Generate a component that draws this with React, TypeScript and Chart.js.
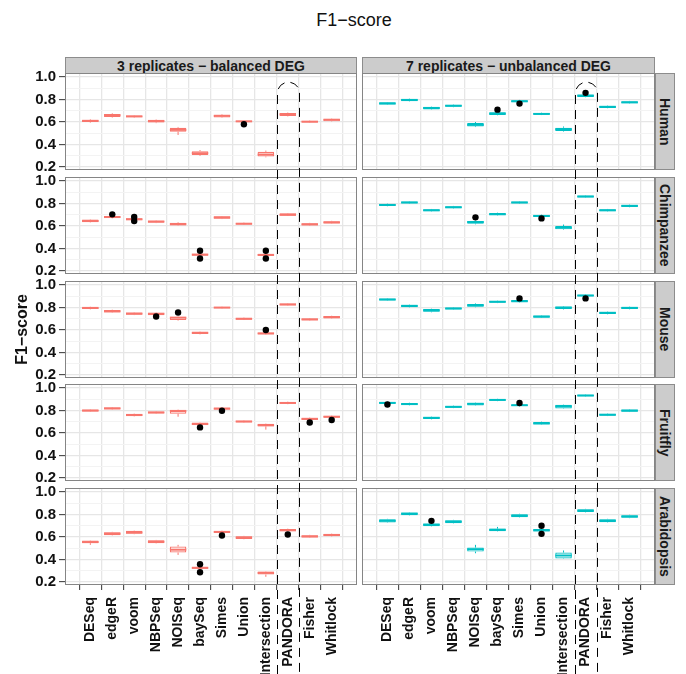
import React, { useEffect, useRef } from 'react';
import { Chart, registerables } from 'chart.js';

Chart.register(...registerables);

const FONT = '"Liberation Sans", Arial, Helvetica, sans-serif';
Chart.defaults.font.family = FONT;

// ---------- data ----------
const categories = ['DESeq', 'edgeR', 'voom', 'NBPSeq', 'NOISeq', 'baySeq', 'Simes', 'Union', 'Intersection', 'PANDORA', 'Fisher', 'Whitlock'];
const columnTitles = ['3 replicates \u2212 balanced DEG', '7 replicates \u2212 unbalanced DEG'];
const speciesNames = ['Human', 'Chimpanzee', 'Mouse', 'Fruitfly', 'Arabidopsis'];
const yTickValues = [0.2, 0.3, 0.4, 0.5, 0.6, 0.7, 0.8, 0.9, 1.0];
const chartTitle = 'F1\u2212score';
const yAxisTitle = 'F1\u2212score';

// box stats: [lower whisker, Q1, median, Q3, upper whisker]
const humanBalanced = [
  [0.595, 0.600, 0.610, 0.620, 0.625], [0.640, 0.645, 0.660, 0.672, 0.678], [0.638, 0.642, 0.650, 0.657, 0.660],
  [0.590, 0.596, 0.608, 0.620, 0.624], [0.484, 0.513, 0.530, 0.549, 0.556], [0.298, 0.305, 0.322, 0.340, 0.350],
  [0.636, 0.640, 0.655, 0.665, 0.670], [0.598, 0.600, 0.606, 0.612, 0.614], [0.285, 0.292, 0.310, 0.334, 0.345],
  [0.650, 0.654, 0.668, 0.680, 0.684], [0.592, 0.595, 0.603, 0.610, 0.613], [0.603, 0.606, 0.620, 0.630, 0.633],
];
const humanUnbalanced = [
  [0.752, 0.755, 0.765, 0.776, 0.778], [0.782, 0.785, 0.797, 0.806, 0.809], [0.708, 0.711, 0.725, 0.735, 0.738],
  [0.732, 0.735, 0.745, 0.753, 0.756], [0.555, 0.561, 0.575, 0.591, 0.600], [0.660, 0.663, 0.675, 0.686, 0.690],
  [0.773, 0.776, 0.785, 0.794, 0.797], [0.662, 0.665, 0.672, 0.680, 0.683], [0.515, 0.520, 0.535, 0.549, 0.560],
  [0.821, 0.824, 0.835, 0.845, 0.848], [0.723, 0.726, 0.735, 0.746, 0.749], [0.764, 0.767, 0.775, 0.785, 0.788],
];
const chimpBalanced = [
  [0.630, 0.633, 0.645, 0.657, 0.660], [0.668, 0.671, 0.680, 0.689, 0.692], [0.648, 0.652, 0.660, 0.670, 0.674],
  [0.626, 0.629, 0.640, 0.647, 0.650], [0.602, 0.605, 0.617, 0.629, 0.635], [0.331, 0.334, 0.345, 0.352, 0.355],
  [0.662, 0.665, 0.676, 0.686, 0.689], [0.610, 0.613, 0.620, 0.629, 0.632], [0.331, 0.334, 0.342, 0.352, 0.355],
  [0.689, 0.692, 0.700, 0.713, 0.716], [0.602, 0.605, 0.615, 0.625, 0.628], [0.619, 0.622, 0.632, 0.643, 0.646],
];
const chimpUnbalanced = [
  [0.776, 0.779, 0.788, 0.797, 0.800], [0.797, 0.800, 0.810, 0.818, 0.821], [0.728, 0.731, 0.740, 0.749, 0.752],
  [0.755, 0.758, 0.767, 0.776, 0.779], [0.615, 0.621, 0.635, 0.644, 0.648], [0.692, 0.695, 0.705, 0.716, 0.719],
  [0.797, 0.800, 0.810, 0.818, 0.821], [0.677, 0.680, 0.690, 0.698, 0.701], [0.565, 0.570, 0.585, 0.600, 0.613],
  [0.851, 0.854, 0.863, 0.872, 0.875], [0.728, 0.731, 0.740, 0.749, 0.752], [0.767, 0.770, 0.780, 0.788, 0.791],
];
const mouseBalanced = [
  [0.784, 0.787, 0.797, 0.804, 0.807], [0.753, 0.756, 0.767, 0.778, 0.781], [0.733, 0.736, 0.746, 0.756, 0.759],
  [0.729, 0.732, 0.745, 0.753, 0.756], [0.684, 0.689, 0.710, 0.718, 0.722], [0.561, 0.564, 0.575, 0.585, 0.588],
  [0.792, 0.795, 0.800, 0.805, 0.807], [0.689, 0.692, 0.700, 0.709, 0.712], [0.557, 0.560, 0.570, 0.576, 0.579],
  [0.816, 0.819, 0.828, 0.836, 0.839], [0.682, 0.685, 0.695, 0.702, 0.705], [0.699, 0.702, 0.715, 0.724, 0.727],
];
const mouseUnbalanced = [
  [0.860, 0.863, 0.872, 0.881, 0.884], [0.801, 0.804, 0.815, 0.825, 0.828], [0.758, 0.763, 0.775, 0.787, 0.790],
  [0.780, 0.783, 0.792, 0.801, 0.804], [0.803, 0.807, 0.820, 0.831, 0.837], [0.840, 0.843, 0.852, 0.858, 0.861],
  [0.844, 0.847, 0.857, 0.867, 0.870], [0.707, 0.710, 0.720, 0.730, 0.733], [0.783, 0.787, 0.800, 0.810, 0.814],
  [0.896, 0.899, 0.908, 0.914, 0.917], [0.740, 0.743, 0.753, 0.763, 0.766], [0.784, 0.787, 0.797, 0.807, 0.810],
];
const flyBalanced = [
  [0.789, 0.792, 0.800, 0.810, 0.813], [0.807, 0.810, 0.820, 0.828, 0.831], [0.748, 0.751, 0.760, 0.772, 0.775],
  [0.771, 0.774, 0.783, 0.792, 0.795], [0.745, 0.772, 0.795, 0.807, 0.810], [0.668, 0.671, 0.680, 0.694, 0.697],
  [0.807, 0.810, 0.817, 0.828, 0.831], [0.691, 0.694, 0.703, 0.709, 0.712], [0.630, 0.659, 0.670, 0.683, 0.686],
  [0.857, 0.860, 0.868, 0.876, 0.879], [0.713, 0.716, 0.726, 0.736, 0.739], [0.733, 0.736, 0.745, 0.754, 0.757],
];
const flyUnbalanced = [
  [0.857, 0.860, 0.868, 0.878, 0.881], [0.846, 0.849, 0.858, 0.867, 0.870], [0.721, 0.724, 0.735, 0.745, 0.748],
  [0.822, 0.825, 0.833, 0.843, 0.846], [0.843, 0.846, 0.860, 0.870, 0.873], [0.884, 0.887, 0.895, 0.902, 0.905],
  [0.837, 0.840, 0.848, 0.854, 0.857], [0.673, 0.676, 0.686, 0.698, 0.701], [0.816, 0.819, 0.838, 0.852, 0.855],
  [0.922, 0.925, 0.935, 0.940, 0.943], [0.751, 0.754, 0.763, 0.772, 0.775], [0.787, 0.790, 0.800, 0.810, 0.813],
];
const arabBalanced = [
  [0.530, 0.545, 0.555, 0.568, 0.571], [0.613, 0.616, 0.630, 0.643, 0.646], [0.625, 0.628, 0.640, 0.655, 0.658],
  [0.542, 0.545, 0.558, 0.571, 0.574], [0.440, 0.462, 0.487, 0.515, 0.530], [0.315, 0.318, 0.325, 0.334, 0.337],
  [0.634, 0.637, 0.645, 0.655, 0.658], [0.580, 0.583, 0.595, 0.607, 0.610], [0.245, 0.265, 0.280, 0.292, 0.295],
  [0.649, 0.652, 0.660, 0.672, 0.675], [0.592, 0.595, 0.605, 0.616, 0.619], [0.604, 0.607, 0.618, 0.628, 0.631],
];
const arabUnbalanced = [
  [0.726, 0.729, 0.745, 0.759, 0.762], [0.792, 0.795, 0.808, 0.818, 0.821], [0.694, 0.697, 0.710, 0.720, 0.723],
  [0.720, 0.723, 0.737, 0.750, 0.753], [0.455, 0.470, 0.490, 0.506, 0.530], [0.649, 0.652, 0.664, 0.675, 0.690],
  [0.774, 0.777, 0.790, 0.804, 0.807], [0.646, 0.649, 0.660, 0.672, 0.675], [0.405, 0.408, 0.435, 0.461, 0.480],
  [0.819, 0.822, 0.835, 0.848, 0.851], [0.729, 0.732, 0.745, 0.759, 0.762], [0.768, 0.771, 0.783, 0.795, 0.798],
];

// outliers: [category index, value]
const humanBalancedOut = [[7, 0.58]];
const humanUnbalancedOut = [[5, 0.71], [6, 0.764], [9, 0.86]];
const chimpBalancedOut = [[1, 0.704], [2, 0.68], [2, 0.645], [5, 0.38], [5, 0.31], [8, 0.38], [8, 0.31]];
const chimpUnbalancedOut = [[4, 0.677], [7, 0.668]];
const mouseBalancedOut = [[3, 0.72], [4, 0.756], [8, 0.6]];
const mouseUnbalancedOut = [[6, 0.882], [9, 0.882]];
const flyBalancedOut = [[5, 0.65], [6, 0.798], [10, 0.694], [11, 0.716]];
const flyUnbalancedOut = [[0, 0.854], [6, 0.867]];
const arabBalancedOut = [[5, 0.357], [5, 0.286], [6, 0.613], [9, 0.622]];
const arabUnbalancedOut = [[2, 0.744], [7, 0.7], [7, 0.628]];

const panelBoxes = [
  [humanBalanced, humanUnbalanced], [chimpBalanced, chimpUnbalanced], [mouseBalanced, mouseUnbalanced],
  [flyBalanced, flyUnbalanced], [arabBalanced, arabUnbalanced],
];
const panelOutliers = [
  [humanBalancedOut, humanUnbalancedOut], [chimpBalancedOut, chimpUnbalancedOut], [mouseBalancedOut, mouseUnbalancedOut],
  [flyBalancedOut, flyUnbalancedOut], [arabBalancedOut, arabUnbalancedOut],
];

// ---------- layout / style ----------
const W = 686, H = 674;
const COLORS = ['#F8766D', '#00BFC4'];
const PANEL_LEFT = [65, 362];
const PANEL_W = [292, 293];
const ROW_TOP = [73, 177, 281, 384, 488];
const PANEL_H = 97;
const XAXIS_H = 89;
const YAXIS_W = 65;
const PAD = 4;
const Y_MIN = 0.172, Y_MAX = 1.037;
const isMajor = (v: number) => Math.round(v * 10) % 2 === 0;

const canvasLeft = (c: number) => (c === 0 ? 0 : PANEL_LEFT[1]);
const canvasWidth = (c: number) => (c === 0 ? PANEL_LEFT[0] + PANEL_W[0] : PANEL_W[1]);
const canvasTop = (r: number, c: number) => ROW_TOP[r] - (c === 0 ? PAD : 0);
const canvasHeight = (r: number, c: number) =>
  PANEL_H + (c === 0 ? PAD + (r < 4 ? PAD : 0) : 0) + (r === 4 ? XAXIS_H : 0);

function makeConfig(r: number, c: number): any {
  const isLeft = c === 0;
  const isBottom = r === 4;
  const color = COLORS[c];
  const boxes = panelBoxes[r][c];
  const outs = panelOutliers[r][c];

  const boxPlugin = {
    id: 'boxExtras' + r + c,
    afterDatasetDraw(chart: any, args: any) {
      if (args.index !== 1) return;
      const { ctx, chartArea } = chart;
      const y = chart.scales.y;
      ctx.save();
      ctx.beginPath();
      ctx.rect(chartArea.left, chartArea.top, chartArea.right - chartArea.left, chartArea.bottom - chartArea.top);
      ctx.clip();
      ctx.strokeStyle = color;
      args.meta.data.forEach((el: any, i: number) => {
        const b = boxes[i];
        const x = el.x;
        const half = el.width / 2;
        ctx.lineWidth = 1;
        ctx.beginPath();
        ctx.moveTo(x, y.getPixelForValue(b[3]));
        ctx.lineTo(x, y.getPixelForValue(b[4]));
        ctx.moveTo(x, y.getPixelForValue(b[1]));
        ctx.lineTo(x, y.getPixelForValue(b[0]));
        ctx.stroke();
        ctx.lineWidth = 2;
        const ym = y.getPixelForValue(b[2]);
        ctx.beginPath();
        ctx.moveTo(x - half, ym);
        ctx.lineTo(x + half, ym);
        ctx.stroke();
      });
      ctx.restore();
    },
    afterDraw(chart: any) {
      const { ctx, chartArea } = chart;
      ctx.save();
      ctx.strokeStyle = '#858585';
      ctx.lineWidth = 1;
      ctx.strokeRect(chartArea.left + 0.5, chartArea.top + 0.5, chartArea.right - chartArea.left - 1, chartArea.bottom - chartArea.top - 1);
      ctx.restore();
    },
  };

  return {
    type: 'bar',
    data: {
      datasets: [
        {
          type: 'scatter',
          data: outs.map(([i, v]) => ({ x: i, y: v })),
          backgroundColor: '#000',
          borderColor: '#000',
          pointRadius: 3.2,
          borderWidth: 0,
        },
        {
          type: 'bar',
          data: boxes.map((b, i) => ({ x: i, y: [b[1], b[3]] })),
          backgroundColor: '#FFFFFF',
          borderColor: color,
          borderWidth: 1.2,
          borderSkipped: false,
          barPercentage: 0.75,
          categoryPercentage: 1,
        },
      ],
    },
    options: {
      animation: false,
      responsive: false,
      maintainAspectRatio: false,
      devicePixelRatio: 1,
      events: [],
      layout: {
        autoPadding: false,
        padding: { top: isLeft ? PAD : 0, bottom: isLeft && !isBottom ? PAD : 0, left: 0, right: 0 },
      },
      plugins: { legend: { display: false }, tooltip: { enabled: false }, title: { display: false } },
      scales: {
        x: {
          type: 'linear',
          min: -0.6,
          max: 11.6,
          afterBuildTicks: (s: any) => {
            s.ticks = categories.map((_, i) => ({ value: i }));
          },
          ticks: {
            display: isBottom,
            autoSkip: false,
            maxRotation: 90,
            minRotation: 90,
            padding: 7,
            color: '#111',
            font: { size: 14, weight: 'bold', family: FONT },
            callback: (v: any) => categories[v],
          },
          grid: { color: '#E6E6E6', lineWidth: 1.3, drawTicks: isBottom, tickLength: 5, tickColor: '#333', tickWidth: 1 },
          border: { display: false },
          afterFit: (s: any) => {
            s.height = isBottom ? XAXIS_H : 0;
            s.paddingLeft = 0;
            s.paddingRight = 0;
          },
        },
        y: {
          type: 'linear',
          min: Y_MIN,
          max: Y_MAX,
          afterBuildTicks: (s: any) => {
            s.ticks = yTickValues.map((v) => ({ value: v }));
          },
          ticks: {
            display: isLeft,
            autoSkip: false,
            padding: 3,
            color: '#111',
            font: { size: 15, weight: 'bold', family: FONT },
            callback: (v: any) => (isMajor(v) ? Number(v).toFixed(1) : ''),
          },
          grid: {
            color: (ctx: any) => (ctx.tick && isMajor(ctx.tick.value) ? '#E6E6E6' : '#F3F3F3'),
            lineWidth: (ctx: any) => (ctx.tick && isMajor(ctx.tick.value) ? 1.3 : 1),
            drawTicks: isLeft,
            tickLength: 6,
            tickColor: (ctx: any) => (ctx.tick && isMajor(ctx.tick.value) ? '#333' : 'rgba(0,0,0,0)'),
            tickWidth: 1,
          },
          border: { display: false },
          title: {
            display: isLeft && r === 2,
            text: yAxisTitle,
            color: '#111',
            font: { size: 16, weight: 'bold', family: FONT },
            padding: { top: 13, bottom: 0 },
          },
          afterFit: (s: any) => {
            s.width = isLeft ? YAXIS_W : 0;
            s.paddingTop = 0;
            s.paddingBottom = 0;
          },
        },
      },
    },
    plugins: [boxPlugin],
  };
}

const stripStyle: React.CSSProperties = {
  position: 'absolute',
  boxSizing: 'border-box',
  background: '#CCCCCC',
  border: '1px solid #8C8C8C',
  color: '#1A1A1A',
  fontFamily: FONT,
  fontWeight: 'bold',
  fontSize: 14,
  display: 'flex',
  alignItems: 'center',
  justifyContent: 'center',
  whiteSpace: 'nowrap',
  overflow: 'hidden',
};

export default function App() {
  const canvasRefs = useRef<(HTMLCanvasElement | null)[]>([]);
  const overlayRef = useRef<HTMLCanvasElement | null>(null);

  useEffect(() => {
    const charts: Chart[] = [];
    for (let r = 0; r < 5; r++) {
      for (let c = 0; c < 2; c++) {
        const cv = canvasRefs.current[r * 2 + c];
        if (cv) charts[r * 2 + c] = new Chart(cv, makeConfig(r, c));
      }
    }
    const ov = overlayRef.current;
    if (ov) {
      const ctx = ov.getContext('2d');
      if (ctx) {
        ctx.clearRect(0, 0, W, H);
        ctx.strokeStyle = '#000';
        ctx.lineWidth = 1;
        ctx.setLineDash([9, 6]);
        for (let c = 0; c < 2; c++) {
          const ch: any = charts[c];
          if (!ch) continue;
          const ox = canvasLeft(c);
          const oy = canvasTop(0, c);
          const xl = Math.round(ch.scales.x.getPixelForValue(8.5) + ox) + 0.5;
          const xr = Math.round(ch.scales.x.getPixelForValue(9.5) + ox) + 0.5;
          const cy = ch.scales.y.getPixelForValue(0.86) + oy;
          const top = ch.scales.y.getPixelForValue(0.955) + oy;
          ctx.beginPath();
          ctx.moveTo(xl, H);
          ctx.lineTo(xl, cy);
          ctx.ellipse((xl + xr) / 2, cy, (xr - xl) / 2, cy - top, 0, Math.PI, 2 * Math.PI);
          ctx.lineTo(xr, H);
          ctx.stroke();
        }
      }
    }
    return () => {
      charts.forEach((ch) => ch && ch.destroy());
    };
  }, []);

  const canvases = [];
  for (let r = 0; r < 5; r++) {
    for (let c = 0; c < 2; c++) {
      const idx = r * 2 + c;
      const w = canvasWidth(c);
      const h = canvasHeight(r, c);
      canvases.push(
        <canvas
          key={idx}
          ref={(el) => {
            canvasRefs.current[idx] = el;
          }}
          width={w}
          height={h}
          style={{ position: 'absolute', left: canvasLeft(c), top: canvasTop(r, c), width: w, height: h }}
        />
      );
    }
  }

  return (
    <div style={{ position: 'fixed', left: 0, top: 0, width: W, height: H, background: '#FFFFFF', overflow: 'hidden' }}>
      <div
        style={{
          position: 'absolute', left: 254, top: 9, width: 200, height: 22, lineHeight: '22px',
          textAlign: 'center', fontFamily: FONT, fontSize: 18, color: '#111',
        }}
      >
        {chartTitle}
      </div>
      {columnTitles.map((t, c) => (
        <div key={'col' + c} style={{ ...stripStyle, left: PANEL_LEFT[c], top: 57, width: PANEL_W[c], height: 17 }}>
          {t}
        </div>
      ))}
      {speciesNames.map((s, r) => (
        <div
          key={'row' + r}
          style={{ ...stripStyle, left: PANEL_LEFT[1] + PANEL_W[1], top: ROW_TOP[r], width: 20, height: PANEL_H }}
        >
          <span style={{ writingMode: 'vertical-rl' }}>{s}</span>
        </div>
      ))}
      {canvases}
      <canvas
        ref={overlayRef}
        width={W}
        height={H}
        style={{ position: 'absolute', left: 0, top: 0, width: W, height: H, pointerEvents: 'none' }}
      />
    </div>
  );
}
